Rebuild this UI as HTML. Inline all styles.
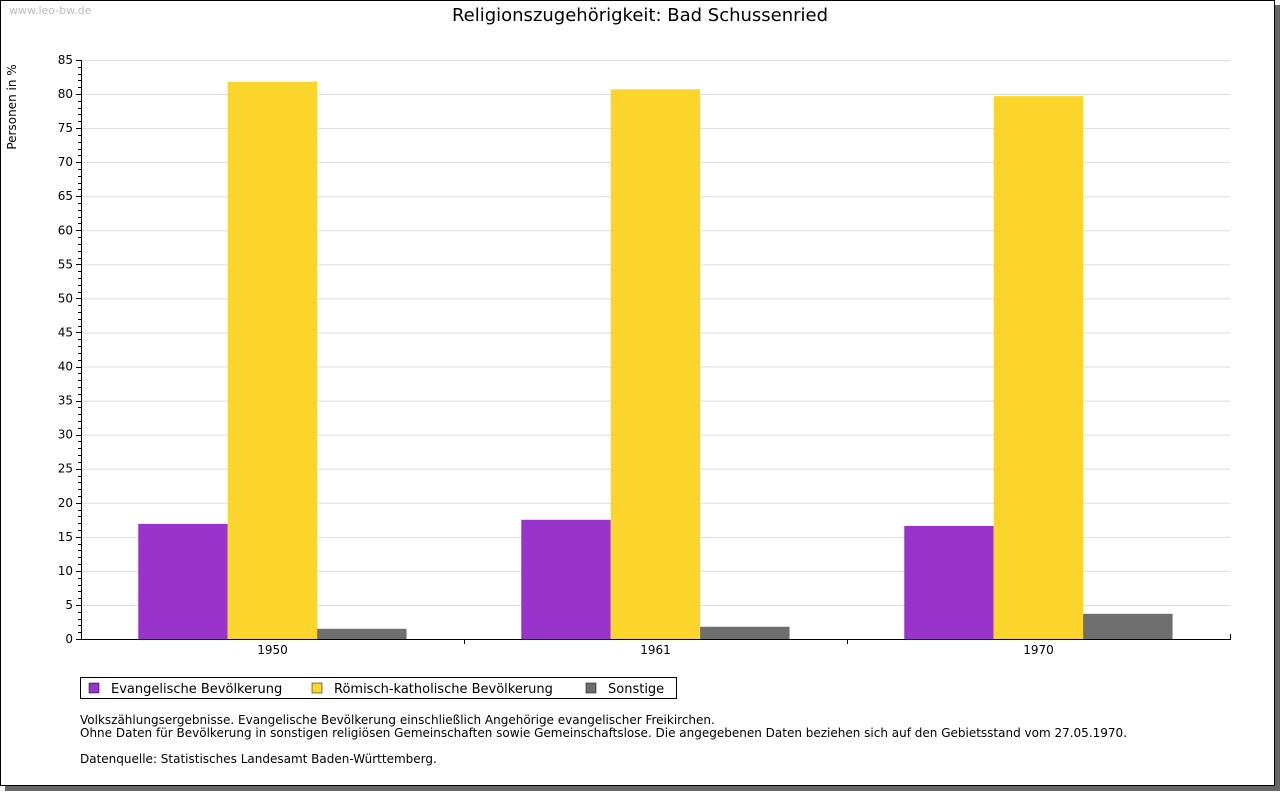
<!DOCTYPE html>
<html><head><meta charset="utf-8"><style>
body{margin:0;background:#fff;width:1280px;height:791px;overflow:hidden;font-family:"DejaVu Sans","Liberation Sans",sans-serif}
</style></head><body>
<svg width="1280" height="791" xmlns="http://www.w3.org/2000/svg" font-family="DejaVu Sans, Liberation Sans, sans-serif">
<rect x="5" y="5" width="1275" height="786" fill="#666"/>
<rect x="0.5" y="0.5" width="1274" height="785" fill="#fff" stroke="#000"/>
<text x="9" y="14" font-size="11" fill="#bbb">www.leo-bw.de</text>
<text x="640" y="21" font-size="18" text-anchor="middle">Religionszugehörigkeit: Bad Schussenried</text>
<text transform="translate(16,107) rotate(-90)" font-size="12" text-anchor="middle">Personen in %</text>
<g id="grid"></g><g id="bars"></g><g id="axes"></g>
<g>
<rect x="80.5" y="677.5" width="596" height="21" fill="#fff" stroke="#000"/>
<rect x="89" y="683" width="10" height="10" fill="#9933cc" stroke="#000" stroke-width="0.5"/>
<text x="111" y="693" font-size="13">Evangelische Bevölkerung</text>
<rect x="312" y="683" width="10" height="10" fill="#fcd52c" stroke="#000" stroke-width="0.5"/>
<text x="334" y="693" font-size="13">Römisch-katholische Bevölkerung</text>
<rect x="586" y="683" width="10" height="10" fill="#6e6e6e" stroke="#000" stroke-width="0.5"/>
<text x="608" y="693" font-size="13">Sonstige</text>
</g>
<g font-size="12">
<text x="80" y="724">Volkszählungsergebnisse. Evangelische Bevölkerung einschließlich Angehörige evangelischer Freikirchen.</text>
<text x="80" y="737">Ohne Daten für Bevölkerung in sonstigen religiösen Gemeinschaften sowie Gemeinschaftslose. Die angegebenen Daten beziehen sich auf den Gebietsstand vom 27.05.1970.</text>
<text x="80" y="763">Datenquelle: Statistisches Landesamt Baden-Württemberg.</text>
</g>
</svg>
<script>
const categories=["1950","1961","1970"];
const evangelisch=[16.9,17.5,16.6];
const katholisch=[81.8,80.7,79.7];
const sonstige=[1.5,1.8,3.7];
const yTicks=[0,5,10,15,20,25,30,35,40,45,50,55,60,65,70,75,80,85];
const NS="http://www.w3.org/2000/svg";
const X0=81,X1=1230,Y0=639,Y1=60,YMAX=85;
const y=v=>Y0-(v/YMAX)*(Y0-Y1);
const gw=(X1-X0)/categories.length;
const bw=gw*0.2335;
function mk(tag,attrs,parent){const e=document.createElementNS(NS,tag);for(const k in attrs)e.setAttribute(k,attrs[k]);document.getElementById(parent).appendChild(e);return e;}
yTicks.forEach(t=>{
 if(t>0){const l=mk('line',{x1:X0,x2:X1,y1:y(t)+0.5,y2:y(t)+0.5,stroke:'#ddd'},'grid');
 
 }
 const tk=mk('line',{x1:X0-5,x2:X0,y1:Math.round(y(t))+0.5,y2:Math.round(y(t))+0.5,stroke:'#000'},'axes');
 
 
 const tx=mk('text',{x:X0-8,y:y(t)+4,'font-size':12,'text-anchor':'end'},'axes');tx.textContent=t;
 
 
});
for(let v=1;v<YMAX;v++){if(v%5)mk('line',{x1:X0-3,x2:X0,y1:Math.round(y(v))+0.5,y2:Math.round(y(v))+0.5,stroke:'#000'},'axes');}
const series=[[evangelisch,'#9933cc','evangelisch'],[katholisch,'#fcd52c','katholisch'],[sonstige,'#6e6e6e','sonstige']];
categories.forEach((c,i)=>{
 const gx=X0+gw*i+gw*0.1495;
 series.forEach(([d,col,nm],j)=>{
  const r=mk('rect',{x:gx+bw*j,y:y(d[i]),width:bw,height:Y0-y(d[i]),fill:col},'bars');
  
  
 });
 const tx=mk('text',{x:X0+gw*(i+0.5),y:Y0+15,'font-size':12,'text-anchor':'middle'},'axes');tx.textContent=c;
 
 
 if(i>0)mk('line',{x1:X0+gw*i+0.5,x2:X0+gw*i+0.5,y1:Y0,y2:Y0+5,stroke:'#000'},'axes');
});
const ya=mk('line',{x1:X0+0.5,x2:X0+0.5,y1:Y1,y2:Y0+1,stroke:'#000'},'axes');


const xa=mk('line',{x1:X0,x2:X1+1,y1:Y0+0.5,y2:Y0+0.5,stroke:'#000'},'axes');


mk('line',{x1:X1+0.5,x2:X1+0.5,y1:Y0-5,y2:Y0,stroke:'#000'},'axes');
</script>
</body></html>
